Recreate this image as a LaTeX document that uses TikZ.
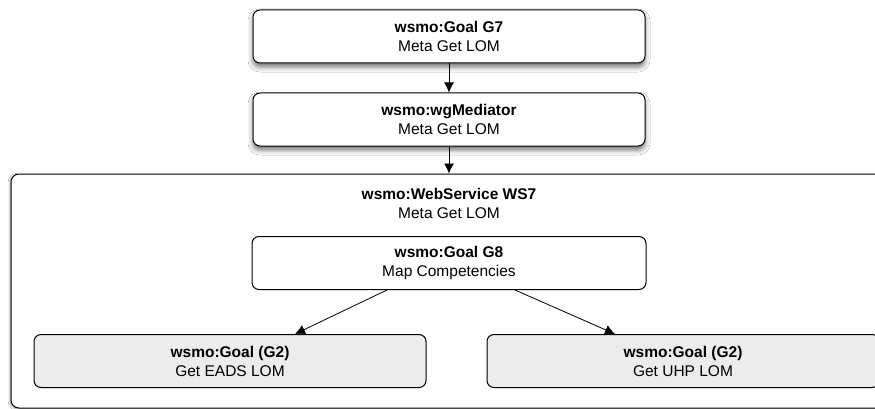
\documentclass[tikz,border=0pt]{standalone}
\usepackage{fontspec}
\setmainfont{Liberation Sans}
\usetikzlibrary{arrows.meta,positioning,shadows.blur}

\tikzset{
  goal/.style={draw, line width=1pt, rounded corners=7pt, fill=white,
    minimum width=392pt, minimum height=53pt, align=center,
    font=\fontsize{15.5}{19}\selectfont},
  topgoal/.style={goal, blur shadow={shadow xshift=0pt, shadow yshift=-4pt,
    shadow blur radius=5pt, shadow opacity=55}},
  subgoal/.style={goal, fill=gray!15},
  flow/.style={line width=0.8pt, -{Latex[length=10pt,width=10pt]}}
}

\begin{document}
\begin{tikzpicture}[x=1pt, y=-1pt]
    \clip (0,0) rectangle (875,409);
    \fill[white] (0,0) rectangle (875,409);

    \node[topgoal] (g7) at (449,36.5) {\textbf{wsmo:Goal G7}\\Meta Get LOM};
    \node[topgoal, below=29pt of g7] (med) {\textbf{wsmo:wgMediator}\\Meta Get LOM};

    \node[draw, line width=1pt, rounded corners=8pt, minimum width=876pt,
          minimum height=234pt, fill=white,
          blur shadow={shadow xshift=-1pt, shadow yshift=-1pt, shadow blur radius=2pt, shadow opacity=40}]
          (ws) at (449,291) {};
    \node[align=center, font=\fontsize{15.5}{19}\selectfont] (wstitle) at (449,203)
        {\textbf{wsmo:WebService WS7}\\Meta Get LOM};

    \node[goal, minimum width=394pt] (g8) at (449,263) {\textbf{wsmo:Goal G8}\\Map Competencies};
    \node[subgoal] (eads) at (230,361) {\textbf{wsmo:Goal (G2)}\\Get EADS LOM};
    \node[subgoal] (uhp) at (683,361) {\textbf{wsmo:Goal (G2)}\\Get UHP LOM};

    \draw[flow] (g7) -- (med);
    \draw[flow] (med) -- (ws.north);
    \draw[flow] ([xshift=-62pt]g8.south) -- ([xshift=65pt]eads.north);
    \draw[flow] ([xshift=66pt]g8.south) -- ([xshift=-68pt]uhp.north);
\end{tikzpicture}
\end{document}
